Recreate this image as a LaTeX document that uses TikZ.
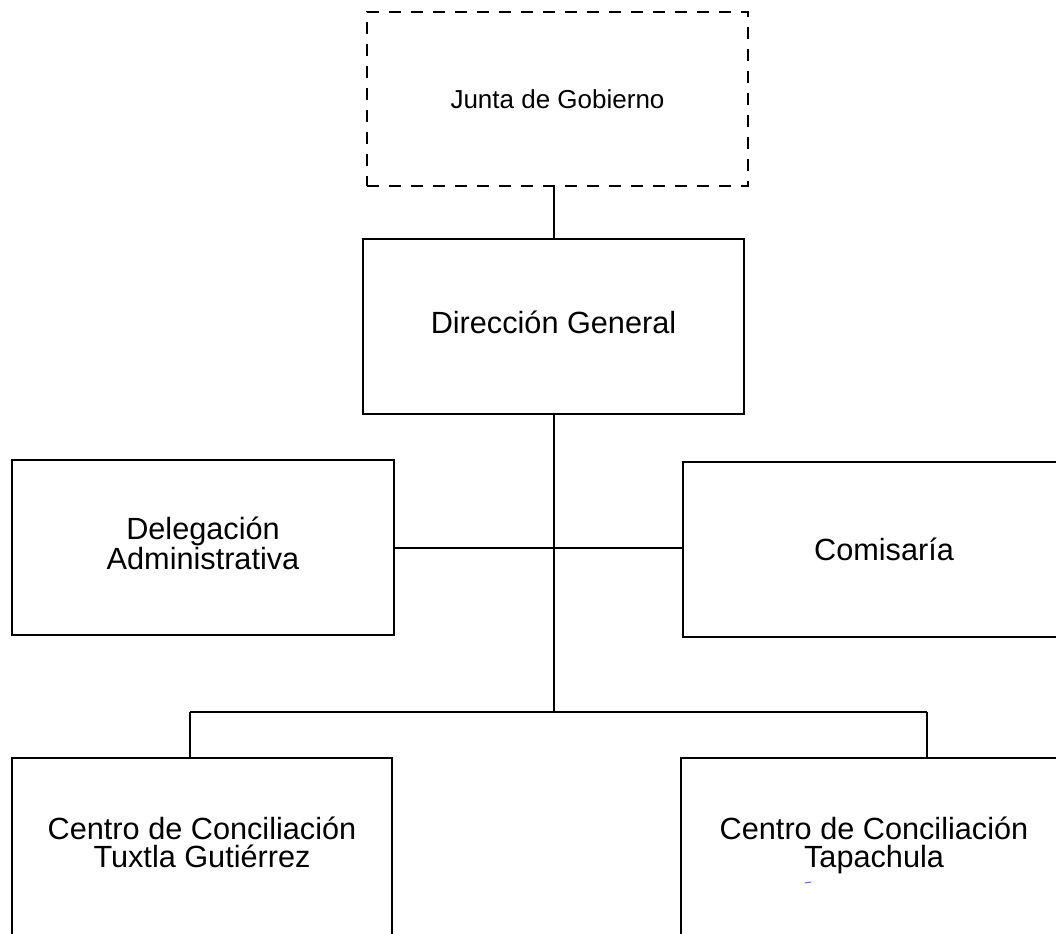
\documentclass[tikz,border=0pt]{standalone}
\usepackage{fontspec}
\newfontfamily\orgfont{Liberation Sans}
\begin{document}
\begin{tikzpicture}[x=0.75pt,y=-0.75pt,line width=1.5pt,
	caja/.style={draw,rectangle,inner sep=0pt,minimum height=131.25pt,align=center,font=\orgfont\fontsize{23}{21}\selectfont}]
	\clip (0,0) rectangle (1056,933);
	\node[caja,dash pattern=on 9pt off 7.5pt,minimum width=285.75pt,minimum height=130.5pt,font=\orgfont\fontsize{19.5}{22}\selectfont] (junta) at (557.5,99) {Junta de Gobierno};
	\node[caja,minimum width=285.75pt,text depth=7pt] (direccion) at (553.5,326.5) {Direcci\'on General};
	\node[caja,minimum width=286.5pt,text depth=7pt] (delegacion) at (203,547.5) {Delegaci\'on\\Administrativa};
	\node[caja,minimum width=301.5pt] (comisaria) at (884,549.5) {Comisar\'ia};
	\node[caja,minimum width=285pt,minimum height=141pt,text depth=14pt] (tuxtla) at (202,852) {Centro de Conciliaci\'on\\Tuxtla Guti\'errez};
	\node[caja,minimum width=289.5pt,minimum height=141pt,text depth=14pt] (tapachula) at (874,852) {Centro de Conciliaci\'on\\Tapachula};
	\coordinate (hub) at (554,712);
	\coordinate (busL) at (190,712);
	\coordinate (busR) at (927,712);
	% lineas
	\draw (direccion.north -| hub) -- (junta.south -| hub);
	\draw (direccion.south -| hub) -- (hub);
	\draw (delegacion.east) -- (delegacion.east -| comisaria.west);
	\draw (busL) -- (busR);
	\draw (busL) -- (busL |- tuxtla.north);
	\draw (busR) -- (busR |- tapachula.north);
	\draw[line width=0.8pt,blue!60] (805,883) -- (811,882);
\end{tikzpicture}
\end{document}
